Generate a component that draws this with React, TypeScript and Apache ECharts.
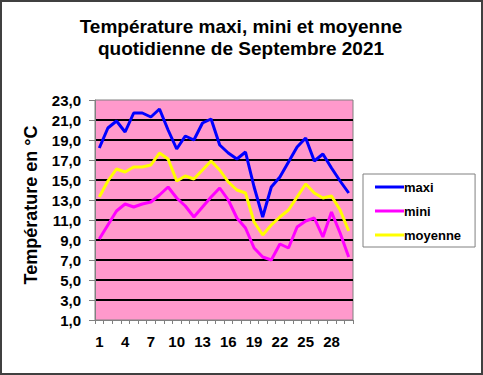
import React, { useEffect, useRef } from "react";
import * as echarts from "echarts";

const days: string[] = Array.from({ length: 30 }, (_, i) => String(i + 1));

const maxi: number[] = [
  18.2, 20.2, 20.9, 19.8, 21.7, 21.7, 21.3, 22.1, 20.0, 18.1,
  19.4, 19.0, 20.7, 21.1, 18.5, 17.7, 17.1, 17.8, 14.3, 11.3,
  14.3, 15.3, 16.8, 18.3, 19.2, 16.9, 17.6, 16.2, 14.9, 13.7,
];

const mini: number[] = [
  9.1, 10.5, 11.9, 12.6, 12.3, 12.6, 12.8, 13.5, 14.3, 13.2,
  12.4, 11.3, 12.3, 13.3, 14.2, 13.0, 11.2, 10.2, 8.2, 7.3,
  7.0, 8.6, 8.2, 10.3, 10.9, 11.2, 9.3, 11.8, 9.7, 7.3,
];

const moyenne: number[] = [
  13.3, 14.9, 16.1, 15.8, 16.3, 16.3, 16.5, 17.7, 17.1, 14.9,
  15.4, 15.1, 16.0, 16.9, 16.0, 14.8, 14.0, 13.7, 10.8, 9.5,
  10.5, 11.3, 12.0, 13.3, 14.6, 13.7, 13.2, 13.4, 12.0, 9.9,
];

const seriesNames = ["maxi", "mini", "moyenne"];
const FONT = "'Liberation Sans', Arial, sans-serif";

export default function App() {
  const ref = useRef<HTMLDivElement>(null);
  useEffect(() => {
    if (!ref.current) return;
    const chart = echarts.init(ref.current, null, { renderer: "svg" });
    chart.setOption({
      animation: false,
      backgroundColor: "#ffffff",
      textStyle: { fontFamily: FONT },
      title: {
        text: "Température maxi, mini et moyenne\nquotidienne de Septembre 2021",
        left: 236,
        textAlign: "center",
        top: 10,
        textStyle: {
          fontFamily: FONT,
          fontWeight: "bold",
          fontSize: 19,
          lineHeight: 22,
          color: "#000",
        },
      },
      legend: {
        orient: "vertical",
        left: 363,
        top: 174,
        padding: [6, 14, 5, 12],
        itemGap: 10,
        itemWidth: 29,
        itemHeight: 3,
        icon: "rect",
        borderColor: "#808080",
        borderWidth: 1,
        backgroundColor: "#ffffff",
        data: seriesNames,
        textStyle: {
          fontFamily: FONT,
          fontWeight: "bold",
          fontSize: 13,
          color: "#000",
          padding: [0, 0, 0, -5],
          lineHeight: 14,
        },
      },
      grid: {
        left: 95,
        right: 130,
        top: 100,
        bottom: 55,
        show: true,
        backgroundColor: "#FF99CC",
        borderColor: "#808080",
        borderWidth: 1,
      },
      xAxis: {
        type: "category",
        data: days,
        boundaryGap: true,
        axisLine: { lineStyle: { color: "#808080", width: 1 } },
        axisTick: {
          show: true,
          interval: 0,
          length: 4,
          alignWithLabel: false,
          lineStyle: { color: "#808080" },
        },
        axisLabel: {
          interval: 2,
          fontFamily: FONT,
          fontWeight: "bold",
          fontSize: 15,
          color: "#000",
          margin: 14,
        },
        splitLine: { show: false },
      },
      yAxis: {
        type: "value",
        min: 1,
        max: 23,
        interval: 2,
        axisLine: { show: true, lineStyle: { color: "#808080", width: 1 } },
        axisTick: { show: true, length: 6, lineStyle: { color: "#808080" } },
        axisLabel: {
          formatter: (v: number) => v.toFixed(1).replace(".", ","),
          fontFamily: FONT,
          fontWeight: "bold",
          fontSize: 15,
          color: "#000",
          margin: 14,
        },
        splitLine: {
          show: true,
          showMinLine: false,
          showMaxLine: false,
          lineStyle: { color: "#000", width: 2 },
        },
      },
      graphic: [
        {
          type: "text",
          x: 31,
          y: 205,
          rotation: Math.PI / 2,
          style: {
            text: "Température en °C",
            fontFamily: FONT,
            fontWeight: "bold",
            fontSize: 18,
            fill: "#000",
            align: "center",
            verticalAlign: "middle",
          },
        },
        {
          type: "rect",
          shape: { x: 1, y: 1, width: 481, height: 373 },
          style: { fill: "none", stroke: "#404040", lineWidth: 2 },
          silent: true,
        },
      ],
      series: [
        {
          name: "maxi",
          type: "line",
          data: maxi,
          symbol: "none",
          lineStyle: { color: "#0000FF", width: 3 },
          itemStyle: { color: "#0000FF" },
        },
        {
          name: "mini",
          type: "line",
          data: mini,
          symbol: "none",
          lineStyle: { color: "#FF00FF", width: 3 },
          itemStyle: { color: "#FF00FF" },
        },
        {
          name: "moyenne",
          type: "line",
          data: moyenne,
          symbol: "none",
          lineStyle: { color: "#FFFF00", width: 3 },
          itemStyle: { color: "#FFFF00" },
        },
      ],
    });
    return () => chart.dispose();
  }, []);
  return (
    <div
      ref={ref}
      style={{ position: "absolute", left: 0, top: 0, width: 483, height: 375 }}
    />
  );
}
